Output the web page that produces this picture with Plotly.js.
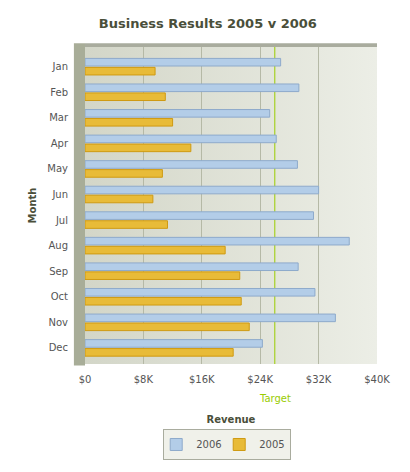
<!DOCTYPE html>
<html>
<head>
<meta charset="utf-8">
<script src="https://cdn.plot.ly/plotly-3.0.1.min.js"></script>
<style>
  html, body { margin: 0; padding: 0; background: #fff; }
  #chart { width: 410px; height: 472px; }
</style>
</head>
<body>
<div id="chart"></div>
<script>
const months = ['Jan','Feb','Mar','Apr','May','Jun','Jul','Aug','Sep','Oct','Nov','Dec'];
const revenue2006 = [26800, 29300, 25300, 26200, 29100, 32000, 31300, 36200, 29200, 31500, 34300, 24300];
const revenue2005 = [9600, 11000, 12000, 14500, 10600, 9300, 11300, 19200, 21200, 21400, 22500, 20300];
const targetValue = 26000;
const tickVals = [0, 8000, 16000, 24000, 32000, 40000];
const tickText = ['$0', '$8K', '$16K', '$24K', '$32K', '$40K'];

const font = 'DejaVu Sans, Verdana, sans-serif';

// soft green-grey gradient behind the bars
const bgSvg = '<svg xmlns="http://www.w3.org/2000/svg" width="100" height="100" preserveAspectRatio="none">' +
  '<defs><linearGradient id="g" x1="0" y1="0" x2="1" y2="0">' +
  '<stop offset="0" stop-color="#d3d6c8"/><stop offset="1" stop-color="#eceee6"/>' +
  '</linearGradient></defs><rect width="100" height="100" fill="url(#g)"/></svg>';
const bgUri = 'data:image/svg+xml;base64,' + btoa(bgSvg);

const traces = [
  { type: 'bar', orientation: 'h', name: '2006', y: months, x: revenue2006,
    marker: { color: '#b3cde8', line: { color: '#8eaacb', width: 1 } }, hoverinfo: 'x+y+name' },
  { type: 'bar', orientation: 'h', name: '2005', y: months, x: revenue2005,
    marker: { color: '#e8bb38', line: { color: '#cf9a12', width: 1 } }, hoverinfo: 'x+y+name' }
];

const layout = {
  width: 410, height: 472,
  margin: { l: 85, r: 33, t: 47, b: 104 },
  paper_bgcolor: '#ffffff', plot_bgcolor: 'rgba(0,0,0,0)',
  font: { family: font, size: 10, color: '#555555' },
  title: { text: '<b>Business Results 2005 v 2006</b>', x: 0.507, xanchor: 'center', y: 0.951, yanchor: 'middle',
           font: { family: font, size: 13, color: '#4a4f3a' } },
  barmode: 'group', bargap: 0.3, bargroupgap: 0.15,
  xaxis: {
    range: [0, 40000], tickvals: tickVals, ticktext: tickText,
    showgrid: true, gridcolor: '#b5b9a6', gridwidth: 1, zeroline: false, showline: false,
    ticks: '', ticklen: 0, ticklabelstandoff: 8, tickfont: { family: font, size: 10, color: '#555555' },
    title: { text: '<b>Revenue</b>', standoff: 31, font: { family: font, size: 10, color: '#4a4f3a' } },
    fixedrange: true
  },
  yaxis: {
    type: 'category', range: [11.63, -0.77], showgrid: false, zeroline: false, showline: false,
    ticks: '', ticklabelstandoff: 16, tickfont: { family: font, size: 10, color: '#555555' },
    title: { text: '<b>Month</b>', standoff: 8, font: { family: font, size: 10, color: '#4a4f3a' } },
    fixedrange: true
  },
  images: [{ source: bgUri, xref: 'paper', yref: 'paper', x: 0, y: 1, sizex: 1, sizey: 1,
             sizing: 'stretch', layer: 'below' }],
  shapes: [
    // left wall
    { type: 'rect', xref: 'paper', yref: 'paper', x0: -0.038, x1: 0, y0: -0.005, y1: 1.012,
      fillcolor: '#a8ad98', line: { width: 0 }, layer: 'below' },
    // top rim
    { type: 'rect', xref: 'paper', yref: 'paper', x0: 0, x1: 1, y0: 1, y1: 1.012,
      fillcolor: '#a9ac9e', line: { width: 0 }, layer: 'below' },
    // target line
    { type: 'line', xref: 'x', yref: 'paper', x0: targetValue, x1: targetValue, y0: 0, y1: 1,
      line: { color: '#99cc00', width: 1 }, layer: 'below' }
  ],
  annotations: [
    { text: 'Target', xref: 'x', yref: 'paper', x: targetValue, y: -0.108, showarrow: false,
      xanchor: 'center', yanchor: 'middle', font: { family: font, size: 10, color: '#99cc00' } }
  ],
  showlegend: true,
  legend: { orientation: 'h', x: 0.487, xanchor: 'center', y: -0.205, yanchor: 'top',
            bgcolor: '#f0f1ea', bordercolor: '#a9ac9e', borderwidth: 1, itemwidth: 30,
            tracegroupgap: 0, entrywidth: 26, entrywidthmode: 'pixels', indentation: -8,
            font: { family: font, size: 10, color: '#555555' }, traceorder: 'normal' }
};

Plotly.newPlot('chart', traces, layout, { displayModeBar: false, staticPlot: true });
</script>
</body>
</html>
